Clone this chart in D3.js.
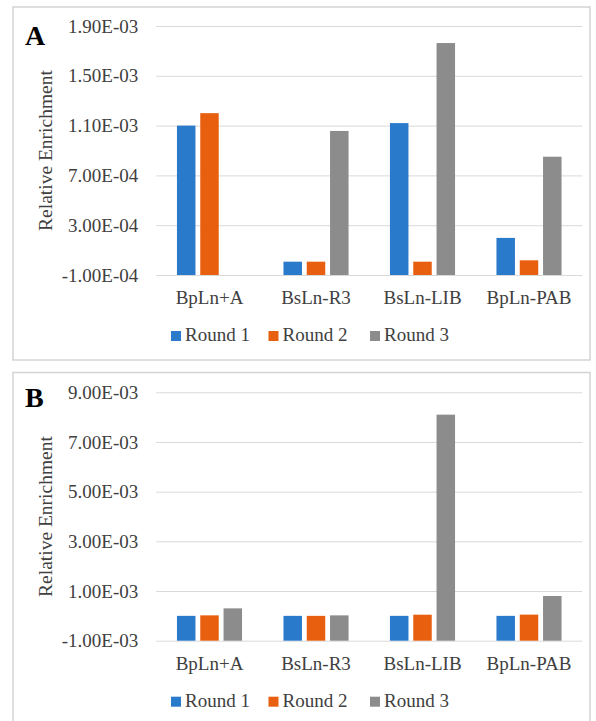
<!DOCTYPE html>
<html>
<head>
<meta charset="utf-8">
<script src="https://cdn.jsdelivr.net/npm/d3@7"></script>
<style>
  body { margin: 0; background: #fff; }
  text { font-family: "Liberation Serif", "Times New Roman", serif; fill: #404040; }
</style>
</head>
<body>
<svg id="fig" width="596" height="721"></svg>
<script>
// data
var categories = ["BpLn+A", "BsLn-R3", "BsLn-LIB", "BpLn-PAB"];
var series = ["Round 1", "Round 2", "Round 3"];
var colors = ["#2a7acb", "#e8600f", "#8c8c8c"];

// panel A values, one array per round (null = no bar)
var a_round1 = [1.10e-3, 7e-6, 1.12e-3, 1.98e-4];
var a_round2 = [1.20e-3, 7e-6, 7e-6, 1.8e-5];
var a_round3 = [null, 1.057e-3, 1.763e-3, 8.5e-4];
var a_ticks = [-1e-4, 3e-4, 7e-4, 1.1e-3, 1.5e-3, 1.9e-3];

// panel B values
var b_round1 = [0, 0, 0, 0];
var b_round2 = [2e-5, 0, 4.7e-5, 5e-5];
var b_round3 = [3.02e-4, 2e-5, 8.1e-3, 8.0e-4];
var b_ticks = [-1e-3, 1e-3, 3e-3, 5e-3, 7e-3, 9e-3];

var svg = d3.select("#fig");

// "1.90E-03" style labels
function sci(v) {
    var s = v.toExponential(2).toUpperCase();
    return s.replace(/E([+-])(\d)$/, "E$10$2").replace("E+", "E+");
}

function drawPanel(p) {
    // outer frame
    svg.append("rect")
        .attr("x", 13).attr("y", p.boxTop)
        .attr("width", 577).attr("height", p.boxH)
        .attr("fill", "none").attr("stroke", "#d4d4d4").attr("stroke-width", 1.5);

    var y = d3.scaleLinear().domain([p.ticks[0], p.ticks[p.ticks.length - 1]])
        .range([p.bottom, p.top]);
    var x0 = d3.scaleBand().domain(categories).range([156.25, 582.25]);
    var x1 = d3.scaleBand().domain(series).range([0, x0.bandwidth()])
        .paddingInner(0.206).paddingOuter(0.889);

    var g = svg.append("g");

    // gridlines + tick labels
    var yAxis = g.append("g")
        .attr("transform", "translate(156.25,0)")
        .call(d3.axisLeft(y).tickValues(p.ticks).tickFormat(sci)
            .tickSize(-426).tickPadding(18));
    yAxis.select(".domain").remove();
    yAxis.selectAll("line").attr("stroke", "#d9d9d9");
    yAxis.selectAll("text").style("font-size", "19px").attr("fill", "#404040");

    var rows = series.map(function(s, i) {
        return { name: s, color: colors[i], values: p.values[i] };
    });

    g.selectAll(".series").data(rows).enter().append("g")
        .attr("fill", function(d) { return d.color; })
        .selectAll("rect")
        .data(function(d) {
            return d.values.map(function(v, j) { return { s: d.name, c: categories[j], v: v }; })
                .filter(function(e) { return e.v !== null; });
        })
        .enter().append("rect")
        .attr("x", function(d) { return x0(d.c) + x1(d.s); })
        .attr("width", x1.bandwidth())
        .attr("y", function(d) { return y(d.v); })
        .attr("height", function(d) { return y(p.ticks[0]) - y(d.v); });

    // category axis
    var xAxis = g.append("g")
        .attr("transform", "translate(0," + p.bottom + ")")
        .call(d3.axisBottom(x0).tickSize(0).tickPadding(p.catPad));
    xAxis.select(".domain").remove();
    xAxis.selectAll("text").style("font-size", "19px").attr("fill", "#404040");

    // y title
    g.append("text")
        .attr("transform", "translate(51.5," + ((p.top + p.bottom) / 2) + ") rotate(-90)")
        .attr("text-anchor", "middle")
        .style("font-size", "19.5px")
        .text("Relative Enrichment");

    // panel letter
    g.append("text")
        .attr("x", 25).attr("y", p.letterY)
        .style("font-size", "28px").style("font-weight", "bold")
        .attr("fill", "#000").style("fill", "#000")
        .text(p.letter);

    // legend
    var legX = [171, 268.5, 370];
    var leg = g.selectAll(".leg").data(series).enter().append("g")
        .attr("transform", function(d, i) { return "translate(" + legX[i] + "," + (p.bottom + 66) + ")"; });
    leg.append("rect")
        .attr("x", 0).attr("y", -10).attr("width", 10).attr("height", 10)
        .attr("fill", function(d, i) { return colors[i]; });
    leg.append("text")
        .attr("x", 14).attr("y", 0)
        .style("font-size", "19px")
        .text(function(d) { return d; });
}

drawPanel({
    letter: "A", letterY: 45,
    boxTop: 7, boxH: 353,
    top: 26, bottom: 275,
    ticks: a_ticks,
    values: [a_round1, a_round2, a_round3],
    catPad: 15.5
});

drawPanel({
    letter: "B", letterY: 407,
    boxTop: 372.5, boxH: 360,
    top: 392.3, bottom: 640.7,
    ticks: b_ticks,
    values: [b_round1, b_round2, b_round3],
    catPad: 16
});
</script>
</body>
</html>
